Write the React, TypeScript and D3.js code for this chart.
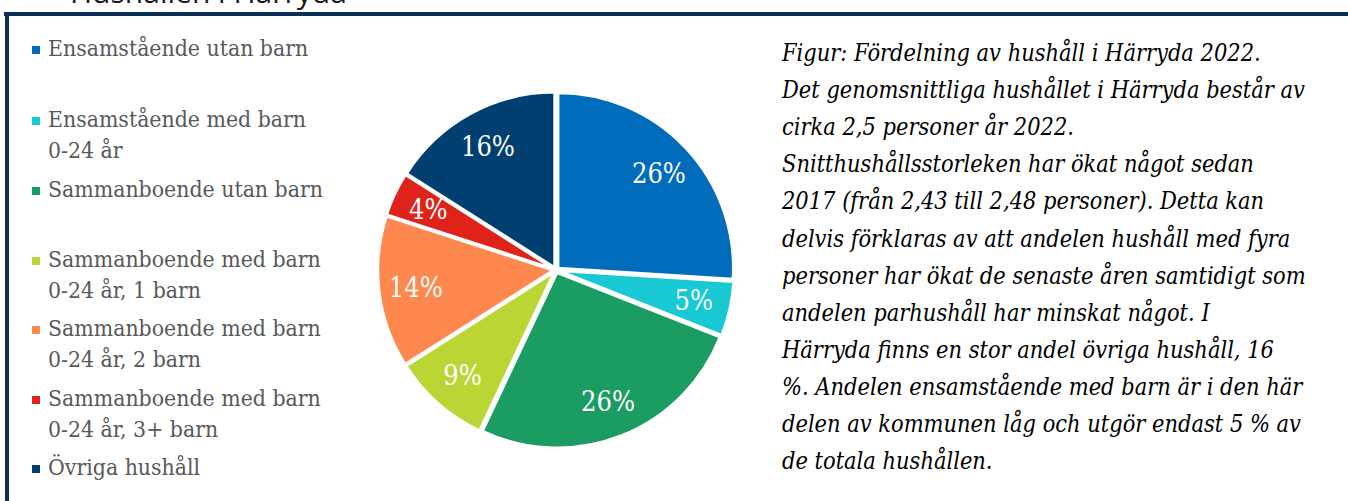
import React, { useEffect, useRef } from "react";
import * as d3 from "d3";

// categories and values (share of households, %)
const categories = [
  ["Ensamstående utan barn"],
  ["Ensamstående med barn", "0-24 år"],
  ["Sammanboende utan barn"],
  ["Sammanboende med barn", "0-24 år, 1 barn"],
  ["Sammanboende med barn", "0-24 år, 2 barn"],
  ["Sammanboende med barn", "0-24 år, 3+ barn"],
  ["Övriga hushåll"],
];
const values = [26, 5, 26, 9, 14, 4, 16];
const colors = ["#006cbb", "#18c8d3", "#1b9c63", "#bbd535", "#ff884e", "#e0231a", "#003f70"];
// baseline of the first line of each legend entry
const legendRows = [56, 127, 197, 267, 336, 406, 475];

const title = "Hushållen i Härryda";
const noteLines = [
  "Figur: Fördelning av hushåll i Härryda 2022.",
  "Det genomsnittliga hushållet i Härryda består av",
  "cirka 2,5 personer år 2022.",
  "Snitthushållsstorleken har ökat något sedan",
  "2017 (från 2,43 till 2,48 personer). Detta kan",
  "delvis förklaras av att andelen hushåll med fyra",
  "personer har ökat de senaste åren samtidigt som",
  "andelen parhushåll har minskat något. I",
  "Härryda finns en stor andel övriga hushåll, 16",
  "%. Andelen ensamstående med barn är i den här",
  "delen av kommunen låg och utgör endast 5 % av",
  "de totala hushållen.",
];

const W = 1348;
const H = 501;
const serif = "'DejaVu Serif Condensed', 'DejaVu Serif'";

// scale the font size of a selection so that one of its texts gets a given width
function fitWidth(sel: d3.Selection<SVGTextElement, any, any, any>, probe: SVGTextElement, target: number) {
  const size = parseFloat(probe.getAttribute("font-size") || "20");
  const w = probe.getComputedTextLength();
  if (w > 0) sel.attr("font-size", (size * target) / w);
}

const App = () => {
  const svgRef = useRef<SVGSVGElement>(null);

  useEffect(() => {
    const svg = d3.select(svgRef.current);
    svg.selectAll("*").remove();

    // cut-off title above the frame
    svg.append("text")
      .attr("x", 70)
      .attr("y", 3)
      .attr("font-family", "Open Sans")
      .attr("font-size", 30)
      .attr("fill", "#1a1a1a")
      .text(title);

    // frame (top and left edge)
    svg.append("rect").attr("x", 4).attr("y", 12).attr("width", W - 4).attr("height", 4).attr("fill", "#0b2f55");
    svg.append("rect").attr("x", 5).attr("y", 12).attr("width", 4).attr("height", H - 12).attr("fill", "#0b2f55");

    // legend
    const legend = svg.append("g");
    categories.forEach((lines, i) => {
      const y = legendRows[i];
      legend.append("rect")
        .attr("x", 32).attr("y", y - 10)
        .attr("width", 8).attr("height", 8)
        .attr("fill", colors[i]);
      lines.forEach((line, j) => {
        legend.append("text")
          .attr("class", "leg")
          .attr("x", 48).attr("y", y + j * 31)
          .attr("font-family", serif)
          .attr("font-size", 20)
          .attr("fill", "#595959")
          .text(line);
      });
    });
    const legTexts = legend.selectAll<SVGTextElement, unknown>("text.leg");
    fitWidth(legTexts, legTexts.nodes()[3], 275);

    // pie
    const cx = 556, cy = 270, R = 175, explode = 3;
    const pie = d3.pie<number>().sort(null).value(d => d);
    const arcs = pie(values);
    const arc = d3.arc<d3.PieArcDatum<number>>().innerRadius(0).outerRadius(R);
    const labelArc = d3.arc<d3.PieArcDatum<number>>().innerRadius(R * 0.79).outerRadius(R * 0.79);

    const g = svg.append("g").attr("transform", `translate(${cx},${cy})`);
    const slices = g.selectAll("g.slice").data(arcs).join("g")
      .attr("class", "slice")
      .attr("transform", d => {
        const a = (d.startAngle + d.endAngle) / 2;
        return `translate(${explode * Math.sin(a)},${-explode * Math.cos(a)})`;
      });

    slices.append("path")
      .attr("d", arc)
      .attr("fill", (_, i) => colors[i])
      .attr("stroke", "#fff")
      .attr("stroke-width", 2.5)
      .attr("stroke-linejoin", "round");

    const labels = slices.append("text")
      .attr("transform", d => `translate(${labelArc.centroid(d)})`)
      .attr("text-anchor", "middle")
      .attr("dy", "0.35em")
      .attr("font-family", serif)
      .attr("font-size", 24)
      .attr("fill", "#fff")
      .text(d => `${d.data}%`);
    fitWidth(labels, labels.nodes()[0], 54);

    // descriptive note
    const note = svg.append("g").selectAll("text").data(noteLines).join("text")
      .attr("x", 782)
      .attr("y", (_, i) => 61 + i * 37.1)
      .attr("font-family", serif)
      .attr("font-style", "italic")
      .attr("font-size", 22)
      .attr("fill", "#000")
      .text(d => d);
    fitWidth(note, note.nodes()[1], 523);
  }, []);

  return (
    <div style={{ position: "absolute", left: 0, top: 0 }}>
      <svg ref={svgRef} width={W} height={H} style={{ display: "block", background: "#fff" }} />
    </div>
  );
};

export default App;
